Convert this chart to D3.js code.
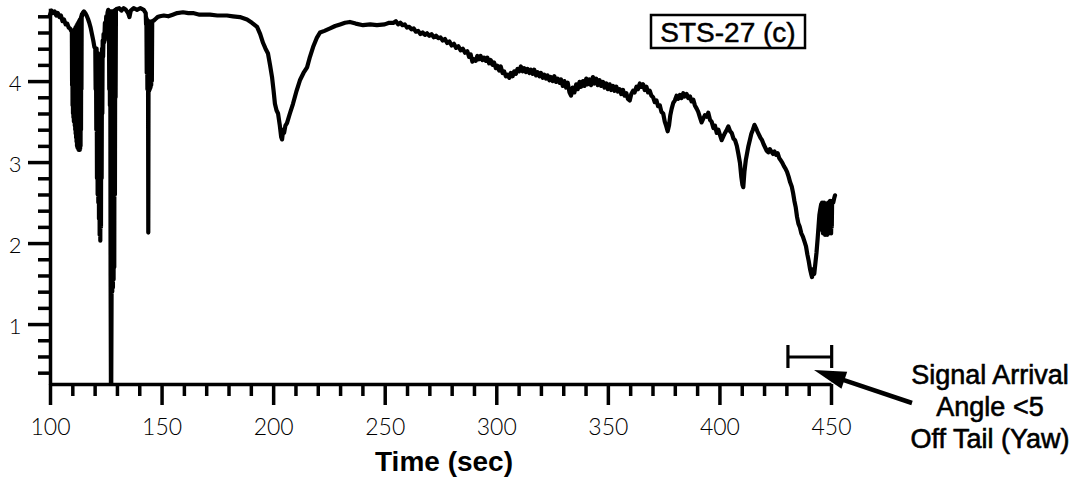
<!DOCTYPE html>
<html>
<head>
<meta charset="utf-8">
<script src="https://cdn.jsdelivr.net/npm/d3@7"></script>
<style>
  html, body { margin: 0; padding: 0; background: #fff; }
  svg { display: block; }
</style>
</head>
<body>
<svg id="chart" width="1081" height="481"></svg>
<script>
// ---- data ----
const timeSec = [
  100.0,100.7,101.4,102.1,102.8,103.5,104.2,104.9,105.6,106.3,107.0,107.7,108.4,109.0,109.5,
  109.8,109.9,110.0,110.1,110.2,110.3,110.4,110.5,110.6,110.7,110.8,110.9,111.0,111.1,111.2,111.3,111.4,111.5,111.6,111.7,111.8,111.9,
  112.0,112.1,112.2,112.3,112.4,112.5,112.6,112.7,112.8,112.9,113.0,113.1,113.2,113.3,113.4,113.5,113.6,113.7,113.8,113.9,114.0,114.1,114.2,114.35,
  114.6,115.2,115.8,116.4,117.0,117.6,118.2,118.8,119.4,119.9,
  120.30,120.45,120.60,120.75,120.90,121.05,121.20,121.35,121.50,121.65,121.80,121.95,122.10,122.25,122.40,122.55,122.70,122.85,123.00,123.15,123.30,123.45,123.60,
  123.8,124.0,124.3,124.6,124.9,125.2,125.5,125.8,
  126.10,126.25,126.40,126.55,126.70,126.85,127.00,127.15,127.30,127.45,127.60,127.75,127.90,128.05,128.20,128.35,128.50,128.65,128.80,128.95,129.10,129.25,129.40,129.55,129.80,
  131.0,132.0,133.0,134.0,135.0,135.6,136.2,137.5,139.0,140.5,142.0,
  142.90,143.05,143.20,143.35,143.50,143.65,143.80,143.95,144.05,144.15,144.30,144.45,144.60,144.75,144.90,145.05,145.20,145.35,145.50,145.65,145.80,146.0,
  146.6,147.4,148.2,149.3,
  151.0,153.0,155.0,157.0,159.6,162.0,164.1,167.0,171.7,175.0,179.3,182.0,185.1,188.3,190.5,192.8,194.2,195.5,196.6,197.7,198.6,199.5,
  200.2,200.8,201.5,202.2,203.0,203.6,204.0,204.5,204.9,205.5,206.2,207.5,208.9,210.5,212.0,213.6,215.2,216.5,217.9,219.5,221.0,223.0,225.5,227.8,
  230.0,232.2,234.4,237.0,240.3,243.5,246.5,250.0,252.0,
  254.0,255.0,256.0,257.0,258.0,259.0,260.0,261.0,262.0,263.0,264.0,265.0,266.0,267.0,268.0,269.0,270.0,271.0,272.0,273.0,274.0,275.0,276.0,277.0,278.0,279.0,
  280.0,281.0,282.0,283.0,284.0,285.0,286.0,287.0,287.8,288.5,289.3,290.0,290.8,291.5,292.3,293.0,293.8,294.5,295.3,296.0,296.8,297.5,298.3,299.0,299.8,
  300.5,301.3,302.0,302.8,303.5,304.3,305.0,305.8,306.5,307.3,308.0,308.8,309.5,310.3,311.0,311.8,312.5,313.3,314.0,314.8,315.5,316.3,317.0,317.8,318.5,319.3,
  320.0,320.8,321.5,322.3,323.0,323.8,324.5,325.3,326.0,326.8,327.5,328.3,329.0,329.8,330.5,331.3,332.0,332.8,333.5,334.2,335.0,335.8,336.5,337.3,338.0,338.8,339.5,
  340.3,341.0,341.8,342.5,343.3,344.0,344.8,345.5,346.3,347.0,347.8,348.5,349.3,350.0,350.8,351.5,352.3,353.0,353.8,354.5,355.3,356.0,356.8,357.5,358.3,359.0,359.8,
  360.5,361.3,362.0,362.8,363.5,364.3,365.0,365.8,366.5,367.3,368.0,368.8,369.5,370.3,371.0,371.8,372.5,373.3,374.0,374.8,375.5,376.2,376.8,377.4,378.0,378.6,379.3,
  380.0,380.8,381.5,382.3,383.0,383.8,384.5,385.3,386.0,386.8,387.5,388.3,389.0,389.8,390.5,391.3,392.0,392.8,393.5,394.3,395.0,395.8,396.5,397.3,398.0,398.8,399.5,
  400.3,401.0,401.8,402.5,403.3,404.0,404.8,405.5,406.3,407.0,407.8,408.5,409.2,409.8,410.3,410.7,411.2,411.8,412.4,413.0,413.7,414.3,415.0,415.7,416.4,417.0,417.7,418.4,419.1,419.8,
  420.5,421.2,421.9,422.6,423.3,424.0,424.7,425.4,426.1,426.8,427.5,428.2,428.9,429.6,430.3,431.0,431.7,432.4,433.0,433.6,434.2,434.8,435.4,436.0,436.7,437.4,438.1,438.8,439.4,
  440.0,440.6,441.1,441.5,442.0,442.5,443.0,443.5,444.0,444.4,444.8,445.2,445.6,
  445.8,446.0,446.15,446.3,446.45,446.6,446.75,446.9,447.05,447.2,447.35,447.5,447.65,447.8,447.95,448.1,448.25,448.4,448.55,448.7,448.85,449.0,449.15,449.3,449.45,449.6,449.75,449.9,450.05,450.2,450.35,450.5,
  451.0,451.4,451.8
];
const amplitude = [
  4.82,4.87,4.84,4.86,4.81,4.84,4.79,4.81,4.74,4.76,4.70,4.71,4.66,4.65,4.62,
  4.62,3.95,4.62,3.70,4.60,3.60,4.60,3.55,4.62,3.50,4.62,3.50,4.64,3.45,4.64,3.40,4.66,3.35,4.66,3.30,4.68,3.25,
  4.68,3.20,4.70,3.18,4.70,3.17,4.72,3.16,4.72,3.15,4.74,3.15,4.74,3.15,4.76,3.16,4.76,3.20,4.78,3.40,4.80,3.90,4.82,4.80,
  4.84,4.86,4.84,4.81,4.77,4.72,4.66,4.58,4.50,4.42,
  4.40,3.90,4.40,3.40,4.40,2.80,4.35,2.60,4.30,2.50,4.30,2.30,4.25,2.10,4.25,2.03,4.30,2.20,4.35,2.80,4.40,3.60,4.50,
  4.30,4.58,4.48,4.72,4.64,4.80,4.74,4.85,
  4.88,4.50,4.86,3.90,4.86,3.70,4.86,1.60,0.26,0.26,1.40,4.86,1.40,4.86,1.45,4.86,1.55,4.86,1.70,4.86,2.60,4.88,3.80,4.88,4.89,
  4.90,4.87,4.90,4.88,4.84,4.79,4.87,4.90,4.88,4.90,4.88,
  4.84,4.70,4.78,4.10,4.76,3.90,4.74,3.92,2.13,3.90,4.74,3.88,4.72,3.90,4.72,3.92,4.72,3.95,4.72,4.00,4.74,4.74,
  4.75,4.77,4.79,4.80,
  4.81,4.80,4.82,4.84,4.85,4.84,4.84,4.82,4.82,4.81,4.81,4.80,4.79,4.76,4.72,4.67,4.58,4.47,4.40,4.34,4.20,4.05,
  3.88,3.72,3.64,3.60,3.45,3.31,3.28,3.40,3.36,3.45,3.48,3.60,3.72,3.88,4.01,4.10,4.17,4.30,4.42,4.53,4.60,4.62,4.65,4.68,
  4.70,4.72,4.73,4.71,4.69,4.70,4.69,4.70,4.72,
  4.72,4.74,4.70,4.72,4.69,4.70,4.66,4.67,4.64,4.65,4.61,4.62,4.58,4.60,4.57,4.59,4.56,4.58,4.54,4.56,4.53,4.54,4.50,4.52,4.47,4.49,
  4.44,4.46,4.41,4.43,4.38,4.40,4.35,4.37,4.30,4.33,4.24,4.27,4.25,4.31,4.27,4.31,4.26,4.29,4.25,4.29,4.22,4.26,4.20,4.23,4.16,
  4.19,4.13,4.18,4.10,4.12,4.06,4.08,4.04,4.10,4.06,4.12,4.09,4.15,4.12,4.18,4.12,4.16,4.11,4.15,4.10,4.14,4.09,4.14,4.07,4.11,4.06,
  4.10,4.04,4.08,4.03,4.07,4.01,4.05,4.00,4.06,3.99,4.03,3.98,4.02,3.94,4.00,3.92,3.98,3.86,3.82,3.92,3.86,3.96,3.90,3.99,3.93,4.00,3.94,
  4.03,3.96,4.02,3.95,4.05,3.97,4.03,3.95,4.01,3.94,3.99,3.92,3.97,3.90,3.96,3.89,3.94,3.88,3.93,3.87,3.90,3.84,3.89,3.82,3.85,3.78,3.76,
  3.84,3.88,3.86,3.93,3.90,3.97,3.93,3.96,3.89,3.93,3.86,3.88,3.82,3.80,3.74,3.76,3.69,3.70,3.62,3.60,3.50,3.44,3.38,3.45,3.58,3.66,3.73,
  3.76,3.82,3.78,3.83,3.79,3.85,3.81,3.84,3.79,3.81,3.75,3.77,3.70,3.66,3.62,3.55,3.49,3.54,3.58,3.56,3.61,3.52,3.50,3.42,3.45,3.36,3.40,
  3.33,3.27,3.32,3.36,3.40,3.44,3.38,3.36,3.29,3.27,3.20,3.10,2.99,2.82,2.72,2.69,2.88,3.02,3.11,3.20,3.28,3.35,3.40,3.46,3.42,3.38,3.34,3.30,3.27,3.22,
  3.18,3.14,3.12,3.16,3.13,3.10,3.13,3.09,3.11,3.05,3.02,2.99,2.95,2.92,2.88,2.82,2.75,2.70,2.62,2.52,2.44,2.32,2.24,2.20,2.12,2.08,2.02,1.96,1.86,
  1.78,1.68,1.62,1.58,1.68,1.62,1.75,1.88,2.05,2.20,2.35,2.42,2.48,
  2.20,2.50,2.15,2.48,2.12,2.45,2.14,2.50,2.12,2.46,2.10,2.44,2.12,2.48,2.14,2.47,2.10,2.45,2.12,2.50,2.15,2.48,2.12,2.46,2.14,2.52,2.15,2.50,2.12,2.48,2.20,2.52,
  2.50,2.55,2.59
];
const xMajorTicks = [100,150,200,250,300,350,400,450];
const xMinorTicks = [110,120,130,140,160,170,180,190,210,220,230,240,260,270,280,290,310,320,330,340,360,370,380,390,410,420,430,440];
const yMajorTicks = [1,2,3,4];
const yMinorTicks = [0.4,0.6,0.8,1.2,1.4,1.6,1.8,2.2,2.4,2.6,2.8,3.2,3.4,3.6,3.8,4.2,4.4,4.6,4.8];
const xDomain = [100, 450];
const yDomain = [0.26, 4.9];
const xTitle = "Time (sec)";
const legendLabel = "STS-27 (c)";
const signalWindow = [430.7, 450.3];
const annotationLines = ["Signal Arrival", "Angle <5", "Off Tail (Yaw)"];

// ---- drawing ----
const svg = d3.select("#chart");
const x = d3.scaleLinear().domain(xDomain).range([50, 831]);
const y = d3.scaleLinear().domain(yDomain).range([384, 8.2]);

const AXIS_W = 3.5;
const tickFont = "Lato, 'DejaVu Sans', sans-serif";

// minor x ticks
const gxMinor = svg.append("g").attr("transform", "translate(0,384)")
  .call(d3.axisBottom(x).tickValues(xMinorTicks).tickSize(12).tickSizeOuter(0).tickFormat(""));
gxMinor.select(".domain").remove();
gxMinor.selectAll(".tick line").attr("stroke", "#000").attr("stroke-width", AXIS_W);

// major x ticks + labels
const gx = svg.append("g").attr("transform", "translate(0,384)")
  .call(d3.axisBottom(x).tickValues(xMajorTicks).tickSize(21).tickSizeOuter(0).tickFormat(d3.format("d")));
gx.select(".domain").attr("stroke", "#000").attr("stroke-width", AXIS_W);
gx.selectAll(".tick line").attr("stroke", "#000").attr("stroke-width", AXIS_W);
gx.selectAll(".tick text")
  .attr("y", 51).attr("dy", 0)
  .attr("font-family", tickFont).attr("font-weight", 300)
  .attr("font-size", 23).attr("fill", "#000");

// minor y ticks
const gyMinor = svg.append("g").attr("transform", "translate(50,0)")
  .call(d3.axisLeft(y).tickValues(yMinorTicks).tickSize(12).tickSizeOuter(0).tickFormat(""));
gyMinor.select(".domain").remove();
gyMinor.selectAll(".tick line").attr("stroke", "#000").attr("stroke-width", AXIS_W);

// major y ticks + labels
const gy = svg.append("g").attr("transform", "translate(50,0)")
  .call(d3.axisLeft(y).tickValues(yMajorTicks).tickSize(22).tickSizeOuter(0).tickFormat(d3.format("d")));
gy.select(".domain").attr("stroke", "#000").attr("stroke-width", AXIS_W);
gy.selectAll(".tick line").attr("stroke", "#000").attr("stroke-width", AXIS_W);
gy.selectAll(".tick text")
  .attr("x", -35).attr("dy", "0.42em").attr("text-anchor", "middle")
  .attr("font-family", tickFont).attr("font-weight", 300)
  .attr("font-size", 22).attr("fill", "#000");

// x title
svg.append("text")
  .attr("x", 444).attr("y", 471)
  .attr("text-anchor", "middle")
  .attr("font-family", "'Liberation Sans', Arial, sans-serif")
  .attr("font-weight", "bold").attr("font-size", 28)
  .text(xTitle);

// data line
const pts = timeSec.map((t, i) => [t, amplitude[i]]);
svg.append("path")
  .datum(pts)
  .attr("fill", "none")
  .attr("stroke", "#000")
  .attr("stroke-width", 4.2)
  .attr("stroke-linejoin", "round")
  .attr("stroke-linecap", "round")
  .attr("d", d3.line().x(d => x(d[0])).y(d => y(d[1])));

// legend box
const lg = svg.append("g");
lg.append("rect").attr("x", 651).attr("y", 15).attr("width", 154).attr("height", 33)
  .attr("fill", "#fff").attr("stroke", "#000").attr("stroke-width", 2.5);
lg.append("text").attr("x", 728).attr("y", 42).attr("text-anchor", "middle")
  .attr("font-family", "'Liberation Sans', Arial, sans-serif")
  .attr("font-size", 28).attr("stroke", "#000").attr("stroke-width", 0.5)
  .text(legendLabel);

// signal window bracket
const bx0 = x(signalWindow[0]), bx1 = x(signalWindow[1]);
const br = svg.append("g").attr("stroke", "#000").attr("stroke-width", 3.2);
br.append("line").attr("x1", bx0).attr("x2", bx1).attr("y1", 357).attr("y2", 357);
br.append("line").attr("x1", bx0).attr("x2", bx0).attr("y1", 345).attr("y2", 368);
br.append("line").attr("x1", bx1).attr("x2", bx1).attr("y1", 345).attr("y2", 368);

// arrow
const tip = [814, 370], tail = [912, 403];
const dx = tail[0] - tip[0], dy = tail[1] - tip[1];
const L = Math.hypot(dx, dy), ux = dx / L, uy = dy / L;
const headLen = 32, halfW = 9;
const bc = [tip[0] + ux * headLen, tip[1] + uy * headLen];
svg.append("line")
  .attr("x1", bc[0] - ux * 2).attr("y1", bc[1] - uy * 2)
  .attr("x2", tail[0]).attr("y2", tail[1])
  .attr("stroke", "#000").attr("stroke-width", 4.5);
svg.append("path")
  .attr("d", `M${tip[0]},${tip[1]} L${bc[0] - uy * halfW},${bc[1] + ux * halfW} L${bc[0] + uy * halfW},${bc[1] - ux * halfW} Z`)
  .attr("fill", "#000");

// annotation text
const ann = svg.append("text")
  .attr("text-anchor", "middle")
  .attr("font-family", "'Liberation Sans', Arial, sans-serif")
  .attr("font-size", 27).attr("stroke", "#000").attr("stroke-width", 0.6);
annotationLines.forEach((s, i) => {
  ann.append("tspan").attr("x", 990).attr("y", 384 + i * 32).text(s);
});
</script>
</body>
</html>
